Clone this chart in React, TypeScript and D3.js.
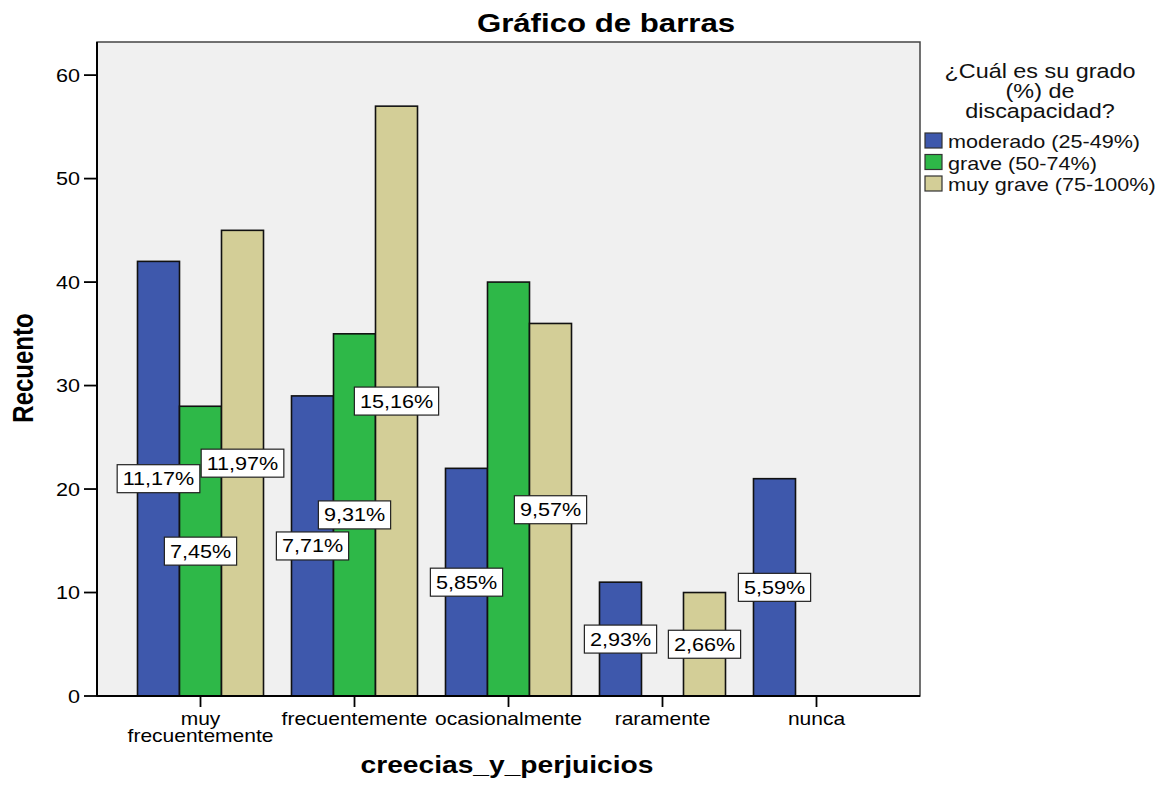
import React from "react";
import * as d3 from "d3";

const categories = ["muy frecuentemente", "frecuentemente", "ocasionalmente", "raramente", "nunca"];
const categoryLines = [["muy", "frecuentemente"], ["frecuentemente"], ["ocasionalmente"], ["raramente"], ["nunca"]];
const seriesNames = ["moderado (25-49%)", "grave (50-74%)", "muy grave (75-100%)"];
const seriesColors = ["#3E58AC", "#2EB848", "#D3CE97"];
const moderado = [42, 29, 22, 11, 21];
const grave = [28, 35, 40, 0, 0];
const muyGrave = [45, 57, 36, 10, 0];
const yTicks = [0, 10, 20, 30, 40, 50, 60];
const hiddenLabels = ["ocasionalmente|grave (50-74%)"];
const legendTitle = ["¿Cuál es su grado", "(%) de", "discapacidad?"];
const chartTitle = "Gráfico de barras";
const xTitle = "creecias_y_perjuicios";
const yTitle = "Recuento";

const FONT = "'Liberation Sans', Arial, sans-serif";
const SX = 1.2;

let ctx: CanvasRenderingContext2D | null = null;
function measure(s: string, fs: number, bold = false) {
  if (!ctx) ctx = document.createElement("canvas").getContext("2d");
  if (!ctx) return s.length * fs * 0.55;
  ctx.font = `${bold ? "bold " : ""}${fs}px 'Liberation Sans', Arial, sans-serif`;
  return ctx.measureText(s).width;
}

function T({ x, y, fs, bold, anchor = "start", rotate, children, fill = "#000" }: any) {
  return (
    <text
      transform={`translate(${x},${y}) scale(${SX},1)${rotate ? ` rotate(${rotate})` : ""}`}
      fontSize={fs}
      fontWeight={bold ? "bold" : "normal"}
      textAnchor={anchor}
      fontFamily={FONT}
      fill={fill}
    >
      {children}
    </text>
  );
}

export default function App() {
  const W = 1171, H = 792;
  const left = 97, right = 920, top = 42, bottom = 696;
  const series = [moderado, grave, muyGrave];
  const total = d3.sum(series.flat());

  const x0 = d3.scaleBand<string>().domain(categories).range([left, right]).paddingInner(0.1818).paddingOuter(0.263);
  const x1 = d3.scaleBand<string>().domain(seriesNames).range([0, x0.bandwidth()]).padding(0);
  const y = d3.scaleLinear().domain([0, 63.2]).range([bottom, top]);

  const fmt = (v: number) => (v / total * 100).toFixed(2).replace(".", ",") + "%";

  const bars: any[] = [];
  const labels: any[] = [];
  categories.forEach((c, ci) => {
    seriesNames.forEach((s, si) => {
      const v = series[si][ci];
      if (!v) return;
      const bx = (x0(c) as number) + (x1(s) as number);
      const bw = x1.bandwidth();
      bars.push(
        <rect key={`b${ci}-${si}`} x={bx} y={y(v)} width={bw} height={y(0) - y(v)} fill={seriesColors[si]} stroke="#111" strokeWidth={1.6} />
      );
      if (hiddenLabels.includes(`${c}|${s}`)) return;
      const txt = fmt(v);
      const tw = measure(txt, 18) * SX;
      const cx = bx + bw / 2;
      const cy = y(v / 2);
      const bwid = tw + 11;
      labels.push(
        <g key={`l${ci}-${si}`}>
          <rect x={cx - bwid / 2} y={cy - 14} width={bwid} height={28} fill="#fff" stroke="#222" strokeWidth={1.2} />
          <T x={cx} y={cy + 6.5} fs={18} anchor="middle">{txt}</T>
        </g>
      );
    });
  });

  return (
    <svg width={W} height={H} style={{ position: "absolute", left: 0, top: 0, background: "#fff" }}>
      <rect x={0} y={0} width={W} height={H} fill="#fff" />
      <T x={606} y={32} fs={26} bold anchor="middle">{chartTitle}</T>

      <rect x={left} y={top} width={right - left} height={bottom - top} fill="#F0F0F0" stroke="#444" strokeWidth={1.5} />

      {bars}

      <line x1={left} x2={left} y1={top} y2={bottom} stroke="#000" strokeWidth={2} />
      <line x1={left} x2={right} y1={bottom} y2={bottom} stroke="#000" strokeWidth={2} />

      {yTicks.map((t) => (
        <g key={`yt${t}`}>
          <line x1={left - 13} x2={left} y1={y(t)} y2={y(t)} stroke="#000" strokeWidth={1.8} />
          <T x={80} y={y(t) + 6.5} fs={18} anchor="end">{String(t)}</T>
        </g>
      ))}

      {categories.map((c, ci) => {
        const cx = (x0(c) as number) + x0.bandwidth() / 2;
        return (
          <g key={`xt${ci}`}>
            <line x1={cx} x2={cx} y1={bottom} y2={bottom + 11} stroke="#000" strokeWidth={1.8} />
            {categoryLines[ci].map((ln, li) => (
              <T key={li} x={cx} y={725 + li * 17} fs={17.5} anchor="middle">{ln}</T>
            ))}
          </g>
        );
      })}

      {labels}

      <T x={507} y={773} fs={23.5} bold anchor="middle">{xTitle}</T>
      <T x={33} y={368} fs={24} bold anchor="middle" rotate={-90}>{yTitle}</T>

      {legendTitle.map((ln, i) => (
        <T key={`lt${i}`} x={1040} y={78 + i * 20} fs={19.5} anchor="middle" fill="#111">{ln}</T>
      ))}
      {seriesNames.map((s, i) => (
        <g key={`lg${i}`}>
          <rect x={925} y={133 + i * 21.5} width={17} height={15} fill={seriesColors[i]} stroke="#333" strokeWidth={1.2} />
          <T x={948} y={148 + i * 21.5} fs={18} fill="#111">{s}</T>
        </g>
      ))}
    </svg>
  );
}
